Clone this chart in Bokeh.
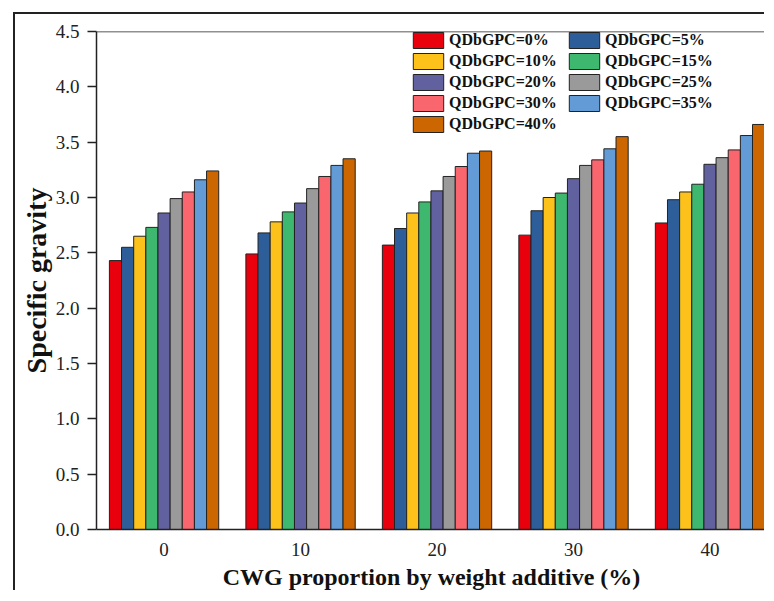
import numpy as np
from bokeh.plotting import figure
from bokeh.models import FixedTicker, Legend, LegendItem, Range1d, NumeralTickFormatter, Span, InlineStyleSheet
from bokeh.embed import file_html
from bokeh.resources import INLINE

categories = [0, 10, 20, 30, 40]
series_labels = ["QDbGPC=0%", "QDbGPC=5%", "QDbGPC=10%", "QDbGPC=15%", "QDbGPC=20%",
                 "QDbGPC=25%", "QDbGPC=30%", "QDbGPC=35%", "QDbGPC=40%"]
colors = ["#E8000D", "#2E5E99", "#FCC21B", "#3DB86E", "#62619F",
          "#9A9A9A", "#F9666E", "#629BD6", "#CC6600"]

q0  = [2.43, 2.49, 2.57, 2.66, 2.77]
q5  = [2.55, 2.68, 2.72, 2.88, 2.98]
q10 = [2.65, 2.78, 2.86, 3.00, 3.05]
q15 = [2.73, 2.87, 2.96, 3.04, 3.12]
q20 = [2.86, 2.95, 3.06, 3.17, 3.30]
q25 = [2.99, 3.08, 3.19, 3.29, 3.36]
q30 = [3.05, 3.19, 3.28, 3.34, 3.43]
q35 = [3.16, 3.29, 3.40, 3.44, 3.56]
q40 = [3.24, 3.35, 3.42, 3.55, 3.66]
series = [q0, q5, q10, q15, q20, q25, q30, q35, q40]

y_ticks = [0.0, 0.5, 1.0, 1.5, 2.0, 2.5, 3.0, 3.5, 4.0, 4.5]

SERIF = "Liberation Serif"
bar_w = 0.89

p = figure(width=751, height=578, output_backend="svg", toolbar_location=None,
           x_range=Range1d(-4.95, 44.14), y_range=Range1d(0, 4.5),
           min_border_left=81, min_border_top=17, min_border_right=0, min_border_bottom=62,
           x_axis_label="CWG proportion by weight additive (%)", y_axis_label="Specific gravity")
p.stylesheets = [InlineStyleSheet(css=":host { margin: 12px 0 0 13px; border-left: 2px solid #222; border-top: 2px solid #222; }")]
p.outline_line_color = None
p.xgrid.visible = False
p.ygrid.visible = False
p.background_fill_color = "white"
p.border_fill_color = "white"

cats = np.array(categories, dtype=float)
items = []
for i, (vals, col, lab) in enumerate(zip(series, colors, series_labels)):
    r = p.vbar(x=cats + (i - 4) * bar_w, top=vals, width=bar_w, bottom=0,
               fill_color=col, line_color="#222222", line_width=1)
    items.append(LegendItem(label=lab, renderers=[r]))

# axes
for ax in p.yaxis:
    ax.ticker = FixedTicker(ticks=y_ticks)
    ax.formatter = NumeralTickFormatter(format="0.0")
    ax.major_label_text_font = SERIF
    ax.major_label_text_font_size = "19px"
    ax.major_label_text_color = "#222222"
    ax.major_tick_out = 9
    ax.major_tick_in = 0
    ax.minor_tick_line_color = None
    ax.major_tick_line_width = 1.5
    ax.axis_line_width = 1.5
    ax.axis_line_color = "#222222"
    ax.major_tick_line_color = "#222222"
    ax.major_label_standoff = 8
    ax.axis_label_text_font = SERIF
    ax.axis_label_text_font_style = "bold"
    ax.axis_label_text_font_size = "28px"
    ax.axis_label_text_color = "#111111"
    ax.axis_label_standoff = 1

for ax in p.xaxis:
    ax.ticker = FixedTicker(ticks=categories)
    ax.major_label_text_font = SERIF
    ax.major_label_text_font_size = "19px"
    ax.major_label_text_color = "#222222"
    ax.major_tick_line_color = None
    ax.minor_tick_line_color = None
    ax.axis_line_width = 1.5
    ax.axis_line_color = "#222222"
    ax.major_label_standoff = 7
    ax.axis_label_text_font = SERIF
    ax.axis_label_text_font_style = "bold"
    ax.axis_label_text_font_size = "24px"
    ax.axis_label_text_color = "#111111"
    ax.axis_label_standoff = 5

# top frame line
p.add_layout(Span(location=4.5, dimension="width", line_color="#222222", line_width=1.5))

legend = Legend(items=items, location=(313, 395), orientation="horizontal", ncols=2,
                label_text_font=SERIF, label_text_font_style="bold", label_text_font_size="16px",
                label_text_color="#111111", glyph_width=38, glyph_height=20, label_height=16,
                label_width=115, label_standoff=2, spacing=1, padding=0, margin=0,
                border_line_color=None, background_fill_alpha=0)
p.add_layout(legend, "center")

open("out.html", "w").write(file_html(p, INLINE))
